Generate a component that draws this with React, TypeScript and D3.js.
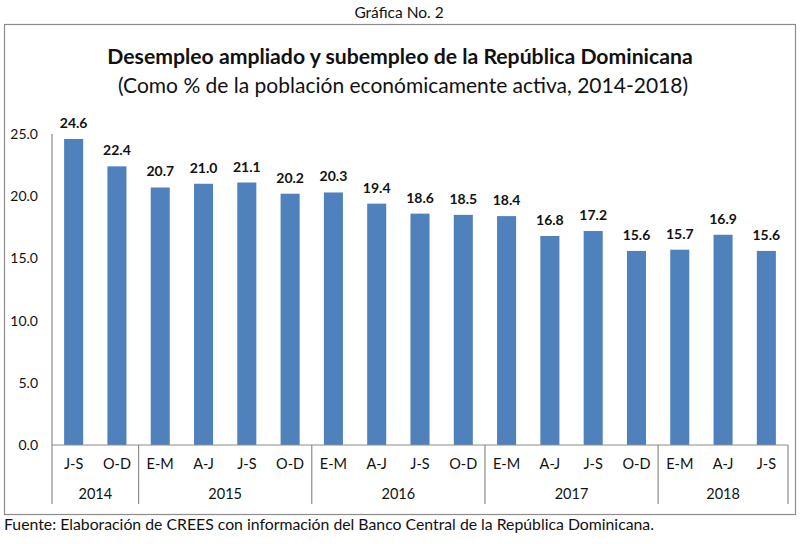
import React from "react";
import * as d3 from "d3";

const periods = ["J-S","O-D","E-M","A-J","J-S","O-D","E-M","A-J","J-S","O-D","E-M","A-J","J-S","O-D","E-M","A-J","J-S"];
const values = [24.6,22.4,20.7,21.0,21.1,20.2,20.3,19.4,18.6,18.5,18.4,16.8,17.2,15.6,15.7,16.9,15.6];
const years = ["2014","2015","2016","2017","2018"];
const yearCounts = [2,4,4,4,3];
const yTicks = [0,5,10,15,20,25];

const W = 800, H = 544;
const FONT = "Lato, 'Open Sans', sans-serif";
const BAR = "#4F81BD";
const GRAY = "#8c8c8c";

export default function App() {
  const x = d3.scaleBand<number>()
    .domain(d3.range(values.length))
    .range([52, 788])
    .paddingInner(0.56)
    .paddingOuter(0.28);
  const y = d3.scaleLinear().domain([0, 25]).range([445, 134]);
  const step = x.step();
  const x0 = 52;

  let acc = 0;
  const groups = years.map((yr, i) => {
    const start = acc;
    acc += yearCounts[i];
    return { yr, start, end: acc };
  });
  const bounds = [0, ...groups.map(g => g.end)];

  return (
    <svg width={W} height={H} style={{ position: "absolute", left: 0, top: 0, background: "#fff" }} fontFamily={FONT}>
      <text x={399} y={18} textAnchor="middle" fontSize={15.5} fill="#111">Gráfica No. 2</text>
      <rect x={4.5} y={24.5} width={791} height={490} fill="none" stroke={GRAY} strokeWidth={1.2} />
      <text x={400} y={64} textAnchor="middle" fontSize={21.2} fontWeight="bold" fill="#111">Desempleo ampliado y subempleo de la República Dominicana</text>
      <text x={403} y={93} textAnchor="middle" fontSize={21} fill="#111">(Como % de la población económicamente activa, 2014-2018)</text>

      {yTicks.map(t => (
        <text key={t} x={38} y={y(t)} dy="0.35em" textAnchor="end" fontSize={14} fill="#111">{t.toFixed(1)}</text>
      ))}
      <line x1={x0} x2={x0} y1={y(25)} y2={445} stroke={GRAY} strokeWidth={1.2} />

      {values.map((v, i) => (
        <g key={i}>
          <rect x={x(i)} y={y(v)} width={x.bandwidth()} height={445 - y(v)} fill={BAR} />
          <text x={(x(i) as number) + x.bandwidth() / 2} y={y(v) - 11} textAnchor="middle" fontSize={14} fontWeight="bold" fill="#111">{v.toFixed(1)}</text>
          <text x={(x(i) as number) + x.bandwidth() / 2} y={469} textAnchor="middle" fontSize={14.5} fill="#111">{periods[i]}</text>
        </g>
      ))}

      <line x1={x0} x2={x0 + step * values.length} y1={445} y2={445} stroke={GRAY} strokeWidth={1.2} />
      {bounds.map((b, i) => (
        <line key={i} x1={x0 + step * b} x2={x0 + step * b} y1={445} y2={504} stroke={GRAY} strokeWidth={1.2} />
      ))}
      {groups.map(g => (
        <text key={g.yr} x={x0 + step * (g.start + g.end) / 2} y={499} textAnchor="middle" fontSize={14.5} fill="#111">{g.yr}</text>
      ))}

      <text x={4} y={530} fontSize={15.8} fill="#111">Fuente: Elaboración de CREES con información del Banco Central de la República Dominicana.</text>
    </svg>
  );
}
